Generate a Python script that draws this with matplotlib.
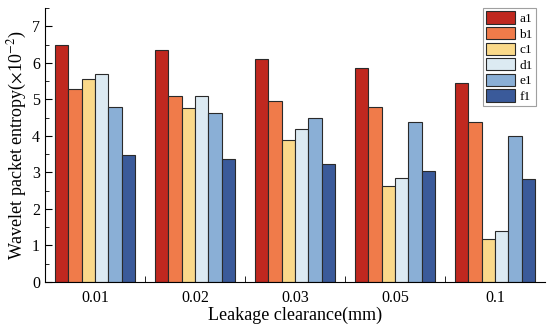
import matplotlib
matplotlib.use("Agg")
import matplotlib.pyplot as plt
import numpy as np
from matplotlib.ticker import MultipleLocator, FixedLocator

categories = ["0.01", "0.02", "0.03", "0.05", "0.1"]
series_names = ["a1", "b1", "c1", "d1", "e1", "f1"]
a1 = [6.50, 6.35, 6.10, 5.87, 5.45]
b1 = [5.28, 5.10, 4.95, 4.80, 4.37]
c1 = [5.55, 4.75, 3.90, 2.63, 1.18]
d1 = [5.70, 5.08, 4.20, 2.85, 1.40]
e1 = [4.80, 4.62, 4.48, 4.38, 4.00]
f1 = [3.48, 3.37, 3.22, 3.05, 2.83]
series = [a1, b1, c1, d1, e1, f1]
colors = ["#C0281F", "#F07B4A", "#FAD98A", "#DCEAF2", "#8AAFD6", "#3A5A9A"]

plt.rcParams['font.family'] = ['Liberation Serif', 'DejaVu Serif']
plt.rcParams['mathtext.fontset'] = 'stix'

fig = plt.figure(figsize=(5.5, 3.31), dpi=100)
ax = fig.add_axes([45/550, 1-282/331, 500/550, 274/331])

x = np.arange(len(categories))
w = 0.8 / 6
for i, (name, vals) in enumerate(zip(series_names, series)):
    ax.bar(x - 0.4 + w*(i+0.5), vals, width=w, color=colors[i],
           edgecolor="#2a2a2a", linewidth=0.8, label=name)

ax.set_xlim(-0.5, 4.5)
ax.set_ylim(0, 7.5)
ax.set_xticks(x)
ax.set_xticklabels(categories)
ax.xaxis.set_minor_locator(FixedLocator(x[:-1] + 0.5))
ax.tick_params(axis='x', which='major', length=0, labelsize=11.5, pad=6)
ax.tick_params(axis='x', which='minor', direction='in', length=4)
ax.yaxis.set_major_locator(MultipleLocator(1))
ax.yaxis.set_minor_locator(MultipleLocator(0.5))
ax.tick_params(axis='y', which='major', direction='in', length=5, labelsize=11.5)
ax.tick_params(axis='y', which='minor', direction='in', length=3)
ax.spines['top'].set_visible(False)
ax.spines['right'].set_visible(False)

ax.set_xlabel("Leakage clearance(mm)", fontsize=13, labelpad=0)
ax.set_ylabel(r"Wavelet packet entropy($\times$10$^{-2}$)", fontsize=13, labelpad=2)

leg = ax.legend(loc="upper right", bbox_to_anchor=(0.982, 1.0), fontsize=9.5,
                frameon=True, fancybox=False, edgecolor="#888888",
                handlelength=2.2, handleheight=1.05, labelspacing=0.15,
                borderpad=0.25, handletextpad=0.3, borderaxespad=0.0)
leg.get_frame().set_linewidth(0.8)

fig.savefig("out.png", dpi=100)
